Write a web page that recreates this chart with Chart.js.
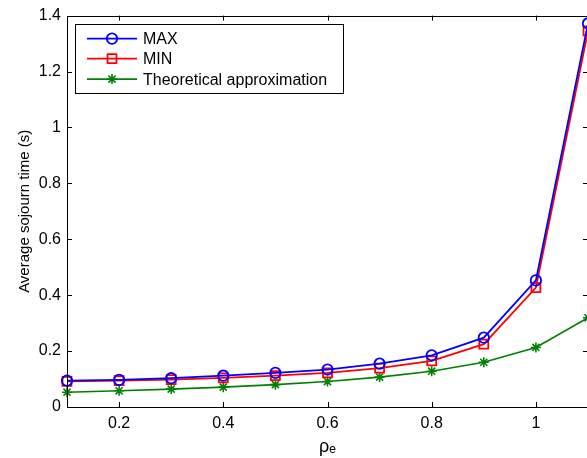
<!DOCTYPE html>
<html>
<head>
<meta charset="utf-8">
<script src="https://cdn.jsdelivr.net/npm/chart.js@4/dist/chart.umd.min.js"></script>
<style>
html,body{margin:0;padding:0;background:#fff;overflow:hidden;}
#wrap{width:600px;height:458px;position:relative;}
</style>
</head>
<body>
<div id="wrap"><canvas id="c"></canvas></div>
<script>
const rho = [0.1, 0.2, 0.3, 0.4, 0.5, 0.6, 0.7, 0.8, 0.9, 1.0, 1.1];
const maxVals = [0.094, 0.097, 0.103, 0.112, 0.122, 0.134, 0.155, 0.185, 0.248, 0.453, 1.372];
const minVals = [0.092, 0.094, 0.098, 0.104, 0.112, 0.122, 0.139, 0.165, 0.225, 0.427, 1.345];
const theoVals = [0.053, 0.058, 0.064, 0.071, 0.080, 0.091, 0.107, 0.128, 0.160, 0.213, 0.319];
const seriesLabels = ['MAX', 'MIN', 'Theoretical approximation'];
const xTickVals = [0.2, 0.4, 0.6, 0.8, 1.0];
const yTickVals = [0, 0.2, 0.4, 0.6, 0.8, 1.0, 1.2, 1.4];
const xTitle = 'ρₑ';
const yTitle = 'Average sojourn time (s)';

const FONT = "'Liberation Sans', Arial, Helvetica, sans-serif";
const toPts = arr => rho.map((x, i) => ({x: x, y: arr[i]}));

const styles = [
  {color: '#0000ff', pointStyle: 'circle', radius: 5.2, width: 1.8},
  {color: '#ff0000', pointStyle: 'rect', radius: 6.3, width: 1.8},
  {color: '#008000', pointStyle: 'star', radius: 5, width: 1.6}
];
const seriesData = [maxVals, minVals, theoVals];

const datasets = seriesData.map((arr, i) => ({
  label: seriesLabels[i],
  data: toPts(arr),
  borderColor: styles[i].color,
  backgroundColor: 'rgba(0,0,0,0)',
  pointBorderColor: styles[i].color,
  pointBackgroundColor: 'rgba(0,0,0,0)',
  pointStyle: styles[i].pointStyle,
  pointRadius: styles[i].radius,
  pointBorderWidth: styles[i].width,
  borderWidth: styles[i].width,
  tension: 0,
  clip: false
}));

const fmt = v => String(Number(Number(v).toFixed(1)));

const frameTicks = {
  id: 'frameTicks',
  afterDatasetsDraw(chart) {
    const {ctx, chartArea: a, scales} = chart;
    ctx.save();
    ctx.strokeStyle = '#000';
    ctx.lineWidth = 1;
    ctx.strokeRect(Math.round(a.left) + 0.5, Math.round(a.top) + 0.5, Math.round(a.right - a.left), Math.round(a.bottom - a.top));
    const L = 5;
    ctx.beginPath();
    xTickVals.forEach(v => {
      const px = Math.round(scales.x.getPixelForValue(v)) + 0.5;
      ctx.moveTo(px, a.bottom); ctx.lineTo(px, a.bottom - L);
      ctx.moveTo(px, a.top); ctx.lineTo(px, a.top + L);
    });
    yTickVals.forEach(v => {
      const py = Math.round(scales.y.getPixelForValue(v)) + 0.5;
      ctx.moveTo(a.left, py); ctx.lineTo(a.left + L, py);
      ctx.moveTo(a.right, py); ctx.lineTo(a.right - L, py);
    });
    ctx.stroke();
    ctx.restore();
  }
};

const boxLegend = {
  id: 'boxLegend',
  afterDraw(chart) {
    const {ctx, chartArea: a} = chart;
    const bx = a.left + 8, by = a.top + 8, bw = 268, bh = 69;
    ctx.save();
    ctx.fillStyle = '#fff';
    ctx.fillRect(bx, by, bw, bh);
    ctx.strokeStyle = '#000';
    ctx.lineWidth = 1;
    ctx.strokeRect(Math.round(bx) + 0.5, Math.round(by) + 0.5, bw, bh);
    const rows = [15, 35, 55.5];
    chart.data.datasets.forEach((ds, i) => {
      const y = by + rows[i];
      ctx.strokeStyle = ds.borderColor;
      ctx.lineWidth = ds.borderWidth;
      ctx.beginPath();
      ctx.moveTo(bx + 12, y); ctx.lineTo(bx + 62, y);
      ctx.stroke();
      ctx.fillStyle = 'rgba(0,0,0,0)';
      Chart.helpers.drawPoint(ctx, {pointStyle: ds.pointStyle, radius: ds.pointRadius, borderWidth: ds.pointBorderWidth, rotation: 0}, bx + 37, y);
      ctx.fillStyle = '#000';
      ctx.font = '16px ' + FONT;
      ctx.textBaseline = 'middle';
      ctx.textAlign = 'left';
      ctx.fillText(ds.label, bx + 68, y + 1);
    });
    ctx.restore();
  }
};

new Chart(document.getElementById('c'), {
  type: 'line',
  data: {datasets},
  options: {
    responsive: true,
    maintainAspectRatio: false,
    animation: false,
    layout: {padding: {top: 15, right: 12, left: 0, bottom: 0}},
    plugins: {legend: {display: false}, tooltip: {enabled: false}},
    scales: {
      x: {
        type: 'linear',
        min: 0.1, max: 1.1,
        afterBuildTicks: s => { s.ticks = xTickVals.map(v => ({value: v})); },
        afterFit: s => { s.height = 51; },
        grid: {display: false, drawTicks: false},
        border: {display: false},
        ticks: {color: '#000', font: {family: FONT, size: 16}, padding: 7, maxRotation: 0, callback: v => fmt(v)},
        title: {display: true, text: xTitle, color: '#000', font: {family: FONT, size: 18}, padding: {top: 0, bottom: 0}}
      },
      y: {
        type: 'linear',
        min: 0, max: 1.4,
        afterBuildTicks: s => { s.ticks = yTickVals.map(v => ({value: v})); },
        afterFit: s => { s.width = 67; },
        grid: {display: false, drawTicks: false},
        border: {display: false},
        ticks: {color: '#000', font: {family: FONT, size: 16}, padding: 6, callback: v => fmt(v)},
        title: {display: true, text: yTitle, color: '#000', font: {family: FONT, size: 15}, padding: {top: 16, bottom: 0}}
      }
    }
  },
  plugins: [frameTicks, boxLegend]
});
</script>
</body>
</html>
